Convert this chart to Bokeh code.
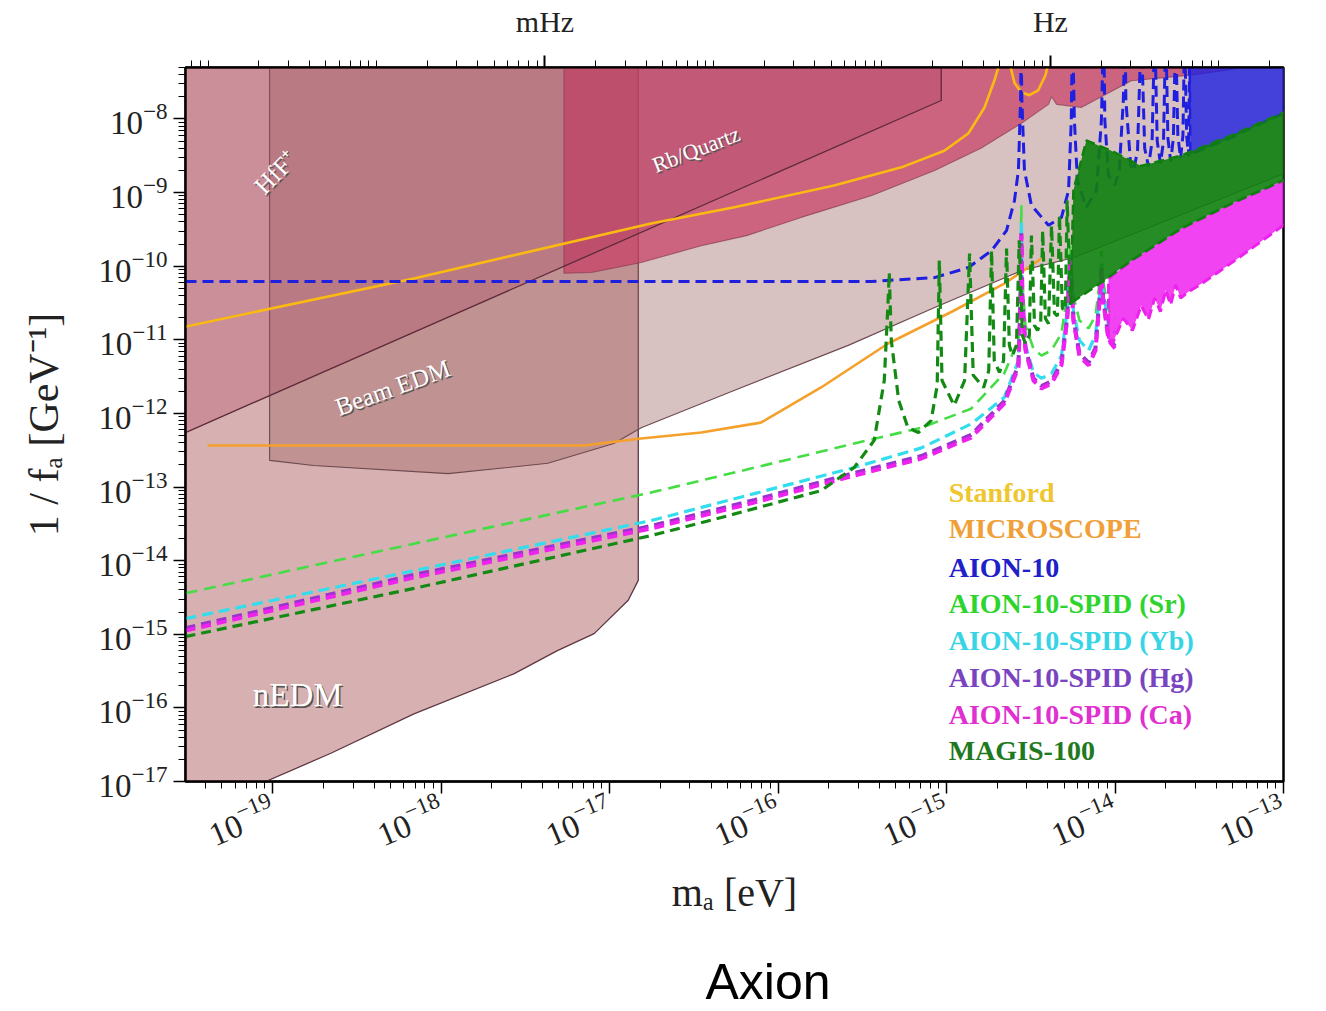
from bokeh.plotting import figure
from bokeh.models import (Range1d, LogScale, LogAxis, FixedTicker,
                          CustomJSTickFormatter, Label, Title)
from bokeh.embed import file_html
from bokeh.resources import INLINE

# ---------------- axes ----------------
X_RANGE = (3.04e-20, 1e-13)          # m_a [eV]
Y_RANGE = (1e-17, 5e-8)              # 1/f_a [GeV^-1]
FREQ_RANGE = (7.35e-6, 24.18)        # same span expressed in Hz
x_major = [1e-19, 1e-18, 1e-17, 1e-16, 1e-15, 1e-14, 1e-13]
y_major = [1e-17, 1e-16, 1e-15, 1e-14, 1e-13, 1e-12, 1e-11, 1e-10, 1e-9, 1e-8]
freq_major = [1e-3, 1.0]
freq_labels = ["mHz", "Hz"]

# ---------------- excluded regions ----------------
nedm_x = [1e-20, 1.48e-17, 1.48e-17, 1.29e-17, 8.1e-18, 4.9e-18, 2.7e-18, 6.9e-19, 2.2e-19, 9.1e-20, 6e-20, 1e-20]
nedm_y = [1e-6, 1e-6, 5.4e-15, 2.9e-15, 1.02e-15, 6.0e-16, 2.9e-16, 8.3e-17, 2.4e-17, 1e-17, 5e-18, 5e-18]

beam_x = [9.6e-20, 9.6e-20, 1.75e-19, 1.1e-18, 4.3e-18, 1.06e-17, 1.54e-17, 5.48e-17, 2.61e-16, 8.5e-16, 2.78e-15, 5.7e-15, 1e-13, 3e-13, 3e-13]
beam_y = [1e-6, 2.3e-13, 1.96e-13, 1.52e-13, 2.1e-13, 3.9e-13, 6.4e-13, 2.05e-12, 8.4e-12, 2.75e-11, 8.7e-11, 1.31e-10, 1.8e-9, 5e-9, 1e-6]

rb_x = [5.36e-18, 5.36e-18, 7.8e-18, 1.54e-17, 3.5e-17, 6.5e-17, 1.37e-16, 3.6e-16, 8.5e-16, 1.6e-15, 2.78e-15, 4.03e-15, 4.2e-15, 4.5e-15, 6.3e-15, 1.25e-14, 3e-14, 1e-13, 3e-13, 3e-13]
rb_y = [1e-6, 8.0e-11, 8.2e-11, 1.12e-10, 1.9e-10, 2.6e-10, 4.6e-10, 9.1e-10, 2.0e-9, 4.0e-9, 8.7e-9, 1.58e-8, 2.0e-8, 1.58e-8, 1.43e-8, 3.3e-8, 4e-8, 6e-8, 1e-7, 1e-6]

hff_x = [1e-20, 3.04e-20, 9.3e-16, 9.3e-16, 1e-20]
hff_y = [1.8e-13, 5.5e-13, 1.78e-8, 1e-6, 1e-6]

# ---------------- projected / existing curves ----------------
stanford_x = [3.0e-20, 6.89e-19, 1.76e-17, 5.5e-17, 2.15e-16, 5.4e-16, 9.7e-16, 1.35e-15, 1.68e-15, 1.92e-15, 2.03e-15, 2.12e-15,
              2.3e-15, 2.36e-15, 2.53e-15, 2.78e-15, 3.1e-15, 3.5e-15, 3.86e-15, 4.03e-15, 4.15e-15]
stanford_y = [1.5e-11, 6.8e-11, 3.8e-10, 6.3e-10, 1.25e-9, 2.2e-9, 3.7e-9, 6.4e-9, 1.43e-8, 3.3e-8, 5.0e-8, 1.5e-7,
              1.5e-7, 5.9e-8, 3.1e-8, 2.3e-8, 2.1e-8, 2.45e-8, 3.9e-8, 5.9e-8, 1.5e-7]

micro_x = [4.11e-20, 7.05e-18, 1.54e-17, 3.5e-17, 7.9e-17, 1.8e-16, 4.5e-16, 1.11e-15, 2.2e-15, 3.66e-15]
micro_y = [3.66e-13, 3.66e-13, 4.56e-13, 5.5e-13, 7.5e-13, 2.25e-12, 8.9e-12, 2.5e-11, 5.8e-11, 1.27e-10]

aion_pts = [(3.04e-20, 6.2e-11), (3.57e-16, 6.2e-11), (8.5e-16, 7.0e-11), (1.35e-15, 9.6e-11), (1.85e-15, 1.63e-10),
            (2.27e-15, 3.05e-10), (2.53e-15, 7.8e-10), (2.67e-15, 2.0e-9), (2.75e-15, 1.78e-8), (2.77e-15, 1e-7),
            (2.8e-15, 1.78e-8), (2.9e-15, 2.0e-9), (3.19e-15, 6.7e-10), (4.03e-15, 3.6e-10), (4.81e-15, 4.6e-10),
            (5.3e-15, 1.07e-9), (5.5e-15, 9.5e-9), (5.57e-15, 1e-7), (5.62e-15, 1e-7), (5.74e-15, 9.5e-9),
            (5.98e-15, 1.45e-9), (6.76e-15, 6.3e-10), (7.76e-15, 1.07e-9), (8.3e-15, 9.5e-9), (8.5e-15, 1e-7),
            (8.6e-15, 1e-7), (8.7e-15, 9.5e-9), (9.15e-15, 1.7e-9), (1.0e-14, 1.26e-9), (1.06e-14, 2e-9),
            (1.12e-14, 1.78e-8), (1.14e-14, 1e-7), (1.15e-14, 1e-7), (1.16e-14, 1.78e-8), (1.24e-14, 2.3e-9),
            (1.29e-14, 2e-9), (1.36e-14, 3.7e-9), (1.42e-14, 1e-7), (1.44e-14, 1e-7), (1.5e-14, 4e-9),
            (1.58e-14, 2.26e-9), (1.66e-14, 5e-9), (1.71e-14, 1e-7), (1.73e-14, 1e-7), (1.78e-14, 5e-9),
            (1.86e-14, 2.48e-9), (1.94e-14, 5e-9), (1.99e-14, 1e-7), (2.01e-14, 1e-7), (2.06e-14, 5.5e-9),
            (2.14e-14, 2.65e-9), (2.22e-14, 5.5e-9), (2.28e-14, 1e-7), (2.30e-14, 1e-7), (2.36e-14, 6e-9),
            (2.45e-14, 2.9e-9), (2.53e-14, 6e-9), (2.58e-14, 1e-7), (2.60e-14, 1e-7), (2.66e-14, 6e-9),
            (2.73e-14, 3.1e-9), (2.78e-14, 1e-7)]
aion_band_x = [2.75e-14, 2.8e-14, 4.92e-14, 1e-13, 1.2e-13, 1.2e-13, 2.75e-14]
aion_band_y = [1e-6, 3.3e-9, 5.6e-9, 1.19e-8, 1.4e-8, 1e-6, 1e-6]

spid_x = [3.04e-20, 6.9e-19, 1.76e-17, 7.3e-17, 2.83e-16, 7.1e-16, 1.4e-15, 2.2e-15, 2.67e-15, 2.75e-15, 2.78e-15, 2.82e-15,
          2.94e-15, 3.28e-15, 3.66e-15, 4.2e-15, 4.81e-15, 5.2e-15, 5.43e-15, 5.66e-15, 6.15e-15, 6.97e-15, 7.66e-15,
          8.2e-15, 8.3e-15, 8.5e-15, 9.15e-15, 1.0e-14]
sr_y = [3.6e-15, 1.7e-14, 8.4e-14, 1.84e-13, 3.9e-13, 6.4e-13, 1.16e-12, 3.5e-12, 9.8e-12, 6.4e-11, 6.7e-10, 6.4e-11,
        1.56e-11, 7.6e-12, 6.1e-12, 7.2e-12, 1.23e-11, 4.0e-11, 1.9e-10, 4.0e-11, 1.83e-11, 1.43e-11, 2.14e-11,
        7.5e-11, 1.63e-10, 6.4e-11, 2.5e-11, 1.95e-11]
yb_y = [1.63e-15, 7.3e-15, 3.5e-14, 8.2e-14, 1.84e-13, 3.4e-13, 7.2e-13, 1.64e-12, 5.2e-12, 3.6e-11, 4.2e-10, 3.6e-11,
        8.4e-12, 3.6e-12, 3.0e-12, 3.5e-12, 6.1e-12, 2.5e-11, 1.4e-10, 2.5e-11, 9.8e-12, 7.2e-12, 1.15e-11,
        5.5e-11, 1.0e-10, 4.6e-11, 1.55e-11, 1.23e-11]
hg_y = [1.21e-15, 6.4e-15, 2.95e-14, 6.7e-14, 1.55e-13, 2.64e-13, 5.1e-13, 1.47e-12, 4.5e-12, 3.7e-11, 2.8e-10, 3.7e-11,
        7.8e-12, 3.0e-12, 2.35e-12, 2.75e-12, 4.9e-12, 1.98e-11, 1.29e-10, 1.98e-11, 6.5e-12, 4.9e-12, 7.8e-12,
        5.1e-11, 9.4e-11, 3.7e-11, 1.06e-11, 8.2e-12]
ca_y = [1.12e-15, 5.9e-15, 2.73e-14, 6.2e-14, 1.43e-13, 2.44e-13, 4.7e-13, 1.36e-12, 4.2e-12, 3.4e-11, 2.6e-10, 3.4e-11,
        7.2e-12, 2.8e-12, 2.18e-12, 2.55e-12, 4.5e-12, 1.83e-11, 1.19e-10, 1.83e-11, 6.0e-12, 4.5e-12, 7.2e-12,
        4.7e-11, 8.7e-11, 3.4e-11, 9.8e-12, 7.6e-12]
spid_band_x = [9.15e-15, 9.66e-15, 1.12e-14, 1.27e-14, 1.43e-14, 1.58e-14, 1.72e-14, 1.86e-14, 2.0e-14, 2.14e-14, 2.29e-14,
               2.45e-14, 2.73e-14, 3.27e-14, 5.13e-14, 1e-13, 1.26e-13, 1.26e-13, 1e-13, 4.92e-14, 2.48e-14, 1.25e-14, 9.15e-15]
spid_band_y = [9.8e-12, 8.9e-12, 1.95e-11, 1.34e-11, 2.92e-11, 1.89e-11, 3.7e-11, 2.42e-11, 4.7e-11, 3.0e-11, 5.6e-11,
               3.7e-11, 4.5e-11, 5.8e-11, 1.19e-10, 3.6e-10, 5e-10, 2e-9, 1.46e-9, 7.1e-10, 3.25e-10, 1.19e-10, 6.8e-11]

magis_pts = [(3.04e-20, 9.3e-16), (6.9e-19, 4.2e-15), (1.76e-17, 2.19e-14), (4.6e-17, 3.85e-14), (1.8e-16, 8.95e-14),
             (2.83e-16, 1.84e-13), (3.72e-16, 4.3e-13), (4.27e-16, 2.8e-12), (4.5e-16, 3.4e-11), (4.57e-16, 8.2e-11),
             (4.7e-16, 9.8e-12), (5.2e-16, 1.5e-12), (5.9e-16, 6.4e-13), (6.8e-16, 5.5e-13), (8.1e-16, 8.0e-13),
             (8.8e-16, 2.4e-12), (9.06e-16, 1.19e-10), (9.4e-16, 2.8e-12), (1.11e-15, 1.28e-12), (1.28e-15, 2.8e-12),
             (1.37e-15, 1.48e-10), (1.44e-15, 3.3e-12), (1.66e-15, 2.25e-12), (1.78e-15, 3.8e-12), (1.85e-15, 1.63e-10),
             (1.92e-15, 5.2e-12), (2.06e-15, 3.6e-12), (2.18e-15, 5.2e-12), (2.27e-15, 1.74e-10), (2.36e-15, 8.4e-12),
             (2.46e-15, 6.1e-12), (2.6e-15, 8.4e-12), (2.7e-15, 2.24e-10), (2.82e-15, 1.15e-11), (2.94e-15, 8.9e-12),
             (3.1e-15, 1.15e-11), (3.19e-15, 2.6e-10), (3.33e-15, 1.56e-11), (3.47e-15, 1.34e-11), (3.62e-15, 1.7e-11),
             (3.72e-15, 3.04e-10), (3.86e-15, 1.95e-11), (4.03e-15, 1.66e-11), (4.2e-15, 3.55e-10), (4.37e-15, 2.3e-11),
             (4.55e-15, 2.1e-11), (4.68e-15, 4.9e-10), (4.87e-15, 2.66e-11), (5.07e-15, 2.5e-11), (5.2e-15, 7.8e-10),
             (5.44e-15, 3.0e-11)]
magis_band_x = [5.44e-15, 5.66e-15, 6.76e-15, 9.5e-15, 1.43e-14, 2.48e-14, 4.92e-14, 1e-13, 1.26e-13,
                1.26e-13, 1e-13, 4.92e-14, 2.48e-14, 1.25e-14, 8.3e-15, 5.74e-15]
magis_band_y = [3.0e-11, 1.07e-9, 5.1e-9, 3.7e-9, 2.3e-9, 3.2e-9, 6.0e-9, 1.22e-8, 1.52e-8,
                1.7e-9, 1.46e-9, 7.1e-10, 3.25e-10, 1.19e-10, 6.0e-11, 3.4e-11]

legend_names = ["Stanford", "MICROSCOPE", "AION-10", "AION-10-SPID (Sr)", "AION-10-SPID (Yb)",
                "AION-10-SPID (Hg)", "AION-10-SPID (Ca)", "MAGIS-100"]
legend_colors = ["#EFC62E", "#F0A038", "#2020C8", "#2ED42E", "#38D4E6", "#7A44C0", "#E030D0", "#1F7A1F"]
legend_y = [8.4e-14, 2.73e-14, 8.05e-15, 2.61e-15, 8.2e-16, 2.58e-16, 8.1e-17, 2.62e-17]
legend_x = 1.03e-15

SERIF = "Liberation Serif"

p = figure(width=1326, height=1011, x_axis_type="log", y_axis_type="log",
           x_range=X_RANGE, y_range=Y_RANGE, output_backend="svg", toolbar_location=None,
           min_border_left=185, min_border_right=43, min_border_top=67, min_border_bottom=230,
           background_fill_color="white", border_fill_color="white")
p.grid.visible = False
p.outline_line_color = "black"
p.outline_line_width = 2.5

# regions
p.patch(nedm_x, nedm_y, fill_color="#aa5a5a", fill_alpha=0.47, line_color="#5e3640", line_width=1.3)
p.patch(beam_x, beam_y, fill_color="#9e6464", fill_alpha=0.4, line_color="#6e4a50", line_width=1.1)
p.patch(rb_x, rb_y, fill_color="#c83c64", fill_alpha=0.7, line_color="#7a3048", line_width=1.1, line_alpha=0.6)
p.patch(hff_x, hff_y, fill_color="#ac4163", fill_alpha=0.3, line_color="#5e2a3a", line_width=1.3)

# curves
p.line(stanford_x, stanford_y, line_color="#FBBA12", line_width=2.6)
p.line(micro_x, micro_y, line_color="#F5A02A", line_width=2.6)
p.line([a for a, b in aion_pts], [b for a, b in aion_pts], line_color="#1F1FE0", line_width=3, line_dash="11 6")
p.patch(aion_band_x, aion_band_y, fill_color="#1F1FE0", fill_alpha=0.8, line_color="#1F1FE0",
        line_width=2.5, line_dash="11 6")
p.line(spid_x, sr_y, line_color="#44DD44", line_width=2.6, line_dash="12 7")
p.line(spid_x, yb_y, line_color="#33DDEE", line_width=3.2, line_dash="11 6")
p.line(spid_x, hg_y, line_color="#9933CC", line_width=4, line_dash="10 6")
p.line(spid_x, ca_y, line_color="#EE22EE", line_width=4, line_dash="10 6")
p.patch(spid_band_x, spid_band_y, fill_color="#EE22EE", fill_alpha=0.85, line_color="#EE22EE",
        line_width=3, line_dash="10 5")
p.line([a for a, b in magis_pts], [b for a, b in magis_pts], line_color="#138A13", line_width=3.2, line_dash="10 6")
p.patch(magis_band_x, magis_band_y, fill_color="#0E800E", fill_alpha=0.9, line_color="#0E800E",
        line_width=2.5, line_dash="10 5")

# region labels (embossed look)
def emboss(x, y, text, angle, size):
    p.add_layout(Label(x=x, y=y, text=text, angle=angle, text_font=SERIF, text_font_size=size,
                       text_color="#555555", text_align="center", text_baseline="middle",
                       x_offset=1.5, y_offset=-1.5))
    p.add_layout(Label(x=x, y=y, text=text, angle=angle, text_font=SERIF, text_font_size=size,
                       text_color="white", text_align="center", text_baseline="middle"))

emboss(1.04e-19, 1.87e-9, "HfF⁺", 0.8, "25px")
emboss(3.26e-17, 3.86e-9, "Rb/Quartz", 0.37, "22px")
emboss(5.16e-19, 2.25e-12, "Beam EDM", 0.35, "25px")
emboss(1.41e-19, 1.48e-16, "nEDM", 0.0, "33px")

# legend as coloured text
for name, col, ly in zip(legend_names, legend_colors, legend_y):
    p.add_layout(Label(x=legend_x, y=ly, text=name, text_color=col, text_font=SERIF,
                       text_font_size="28px", text_font_style="bold",
                       text_align="left", text_baseline="middle"))

# axes
xa = p.xaxis[0]
xa.ticker = FixedTicker(ticks=x_major,
                        minor_ticks=[m * 10.0 ** k for k in range(-20, -13) for m in range(1, 10)])
xa.major_label_orientation = 0.4
xa.axis_label = "mₐ [eV]"
ya = p.yaxis[0]
ya.ticker = FixedTicker(ticks=y_major,
                        minor_ticks=[m * 10.0 ** k for k in range(-17, -7) for m in range(1, 10)])
ya.axis_label = "1 / fₐ [GeV⁻¹]"
for ax in (xa, ya):
    ax.major_label_text_font = SERIF
    ax.major_label_text_font_size = "33px"
    ax.major_label_text_color = "#222222"
    ax.axis_label_text_font = SERIF
    ax.axis_label_text_font_size = "40px"
    ax.axis_label_text_font_style = "normal"
    ax.axis_label_text_color = "#222222"
    ax.axis_line_width = 2
    ax.major_tick_out = 12
    ax.major_tick_in = 0
    ax.minor_tick_out = 7
    ax.minor_tick_in = 0
    ax.major_tick_line_width = 1.5
    ax.major_label_standoff = 6
ya.axis_label_standoff = 28
ya.axis_label_text_font_size = "42px"
xa.axis_label_standoff = 6
xa.major_label_standoff = 12

p.extra_x_ranges = {"freq": Range1d(start=FREQ_RANGE[0], end=FREQ_RANGE[1])}
p.extra_x_scales = {"freq": LogScale()}
top = LogAxis(x_range_name="freq",
              ticker=FixedTicker(ticks=freq_major,
                                 minor_ticks=[m * 10.0 ** k for k in range(-6, 2) for m in range(1, 10)]),
              formatter=CustomJSTickFormatter(args=dict(vals=freq_major, labs=freq_labels), code="""
                  for (let i = 0; i < vals.length; i++) {
                      if (Math.abs(Math.log10(tick) - Math.log10(vals[i])) < 0.01) { return labs[i]; }
                  }
                  return "";
              """))
top.major_label_text_font = SERIF
top.major_label_text_font_size = "30px"
top.major_label_text_color = "#222222"
top.major_tick_out = 12
top.major_tick_in = 0
top.minor_tick_out = 7
top.minor_tick_in = 0
top.major_tick_line_width = 2
top.axis_line_width = 2
top.major_label_standoff = 18
p.add_layout(top, "above")

# spacer, then the caption under the x axis
p.add_layout(Title(text=" ", text_font_size="4px", standoff=27), "below")
p.add_layout(Title(text="Axion", align="left", offset=520, standoff=0, vertical_align="bottom",
                   text_font="Liberation Sans", text_font_size="50px",
                   text_font_style="normal", text_color="black"), "below")

open("out.html", "w").write(file_html(p, INLINE))
